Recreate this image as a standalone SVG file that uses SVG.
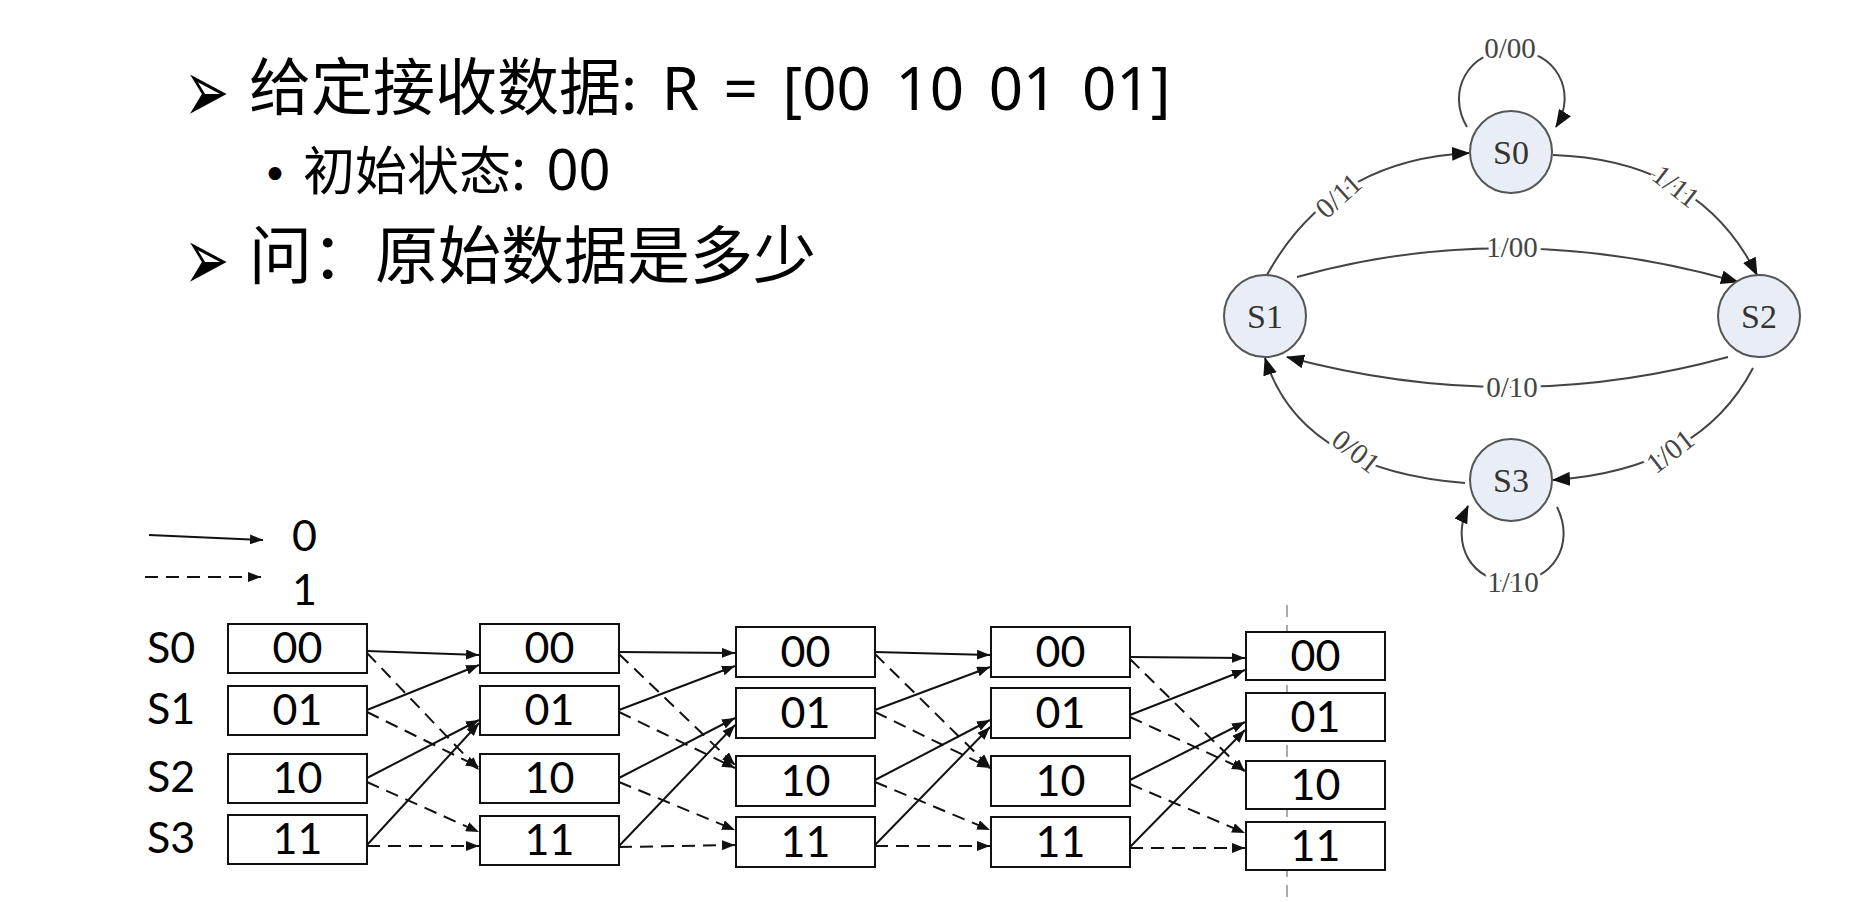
<svg xmlns="http://www.w3.org/2000/svg" width="1856" height="902" viewBox="0 0 1856 902">
<style>
.cjk{font-family:"Noto Sans CJK SC","Noto Sans",sans-serif;fill:#000}
.lat{font-family:"Noto Sans","Noto Sans CJK SC",sans-serif;fill:#000}
.bul{font-family:"DejaVu Sans",sans-serif;fill:#000}
.box{fill:#fff;stroke:#111;stroke-width:2}
.bt{font-family:Lato,"Noto Sans",sans-serif;font-size:43px;fill:#000;text-anchor:middle}
.sl{font-family:Lato,"Noto Sans",sans-serif;font-size:43px;fill:#000}
.s{fill:none;stroke:#111;stroke-width:2;marker-end:url(#ah)}
.d{fill:none;stroke:#111;stroke-width:2;stroke-dasharray:13 8;marker-end:url(#ah)}
.node{fill:#e9eef6;stroke:#555;stroke-width:2}
.nl{font-family:"Liberation Serif",serif;font-size:34px;fill:#333;text-anchor:middle}
.e{fill:none;stroke:#444;stroke-width:2;marker-end:url(#ah2)}
.el{font-family:"Liberation Serif",serif;font-size:29px;fill:#444;text-anchor:middle;stroke:#fff;stroke-width:8;paint-order:stroke}
</style>
<defs>
<marker id="ah" markerUnits="userSpaceOnUse" markerWidth="13" markerHeight="10" refX="13" refY="5" orient="auto"><path d="M0,0 L13,5 L0,10 z" fill="#111"/></marker>
<marker id="ah2" markerUnits="userSpaceOnUse" markerWidth="18" markerHeight="14" refX="17" refY="7" orient="auto"><path d="M0,0 L18,7 L0,14 z" fill="#111"/></marker>
</defs>

<g id="header">
<text class="bul" font-size="54" transform="translate(184,122) scale(1,1.65)">➢</text>
<text y="110"><tspan class="cjk" x="249" font-size="62">给定接收数据</tspan><tspan class="lat" font-size="60" word-spacing="9">: R = [00 10 01 01]</tspan></text>
<text class="bul" x="262" y="190" font-size="44">•</text>
<text y="190"><tspan class="cjk" x="303" font-size="52">初始状态</tspan><tspan class="lat" font-size="56" word-spacing="6">: 00</tspan></text>
<text class="bul" font-size="54" transform="translate(184,290) scale(1,1.65)">➢</text>
<text y="278"><tspan class="cjk" x="249" font-size="63">问：原始数据是多少</tspan></text>
</g>

<g id="state-diagram">
<g id="edges-state">
<path class="e" d="M1467,127 C1446,92 1468,50 1512,50 C1556,50 1578,92 1556,127"/>
<path class="e" d="M1267,275 Q1330,160 1469,153"/>
<path class="e" d="M1553,155 Q1700,160 1757,275"/>
<path class="e" d="M1297,277 Q1510,217 1738,282"/>
<path class="e" d="M1728,357 Q1510,417 1287,357"/>
<path class="e" d="M1753,368 Q1700,470 1553,480"/>
<path class="e" d="M1465,483 Q1300,470 1265,358"/>
<path class="e" d="M1557,507 C1576,545 1552,582 1512,582 C1472,582 1450,545 1468,506"/>
<text class="el" x="1510" y="58">0/00</text>
<text class="el" transform="translate(1345,203) rotate(-42)">0/11</text>
<text class="el" transform="translate(1670,194) rotate(38)">1/11</text>
<text class="el" x="1512" y="257">1/00</text>
<text class="el" x="1512" y="397">0/10</text>
<text class="el" transform="translate(1676,459) rotate(-38)">1/01</text>
<text class="el" transform="translate(1350,459) rotate(38)">0/01</text>
<text class="el" x="1513" y="592">1/10</text>
</g>
<g id="S0"><circle class="node" cx="1511" cy="152" r="41"/><text class="nl" x="1511" y="164">S0</text></g>
<g id="S1"><circle class="node" cx="1265" cy="316" r="41"/><text class="nl" x="1265" y="328">S1</text></g>
<g id="S2"><circle class="node" cx="1759" cy="316" r="41"/><text class="nl" x="1759" y="328">S2</text></g>
<g id="S3"><circle class="node" cx="1511" cy="480" r="41"/><text class="nl" x="1511" y="492">S3</text></g>
</g>

<g id="legend">
<line class="s" x1="149" y1="535" x2="263" y2="540"/>
<line class="d" x1="145" y1="577" x2="261" y2="577"/>
<text class="sl" x="292" y="551" font-size="40px">0</text>
<text class="sl" x="292" y="605" font-size="40px">1</text>
</g>

<line x1="1287" y1="605" x2="1287" y2="902" stroke="#aaa" stroke-width="2" stroke-dasharray="12 8"/>

<g id="row-labels">
<text class="sl" x="147" y="663">S0</text>
<text class="sl" x="147" y="724">S1</text>
<text class="sl" x="147" y="792">S2</text>
<text class="sl" x="147" y="853">S3</text>
</g>

<g id="trellis-edges">
<path class="s" d="M367,651 L479,655"/><path class="s" d="M367,710 L479,665"/><path class="s" d="M367,778 L479,720"/><path class="s" d="M367,845 L479,723"/>
<path class="d" d="M367,653 L479,770"/><path class="d" d="M367,712 L479,767"/><path class="d" d="M367,782 L479,832"/><path class="d" d="M367,846 L479,846"/>
<path class="s" d="M619,652 L735,653"/><path class="s" d="M619,710 L735,666"/><path class="s" d="M619,778 L735,718"/><path class="s" d="M619,846 L735,725"/>
<path class="d" d="M619,654 L735,765"/><path class="d" d="M619,712 L735,768"/><path class="d" d="M619,782 L735,830"/><path class="d" d="M619,847 L735,845"/>
<path class="s" d="M875,652 L990,655"/><path class="s" d="M875,710 L990,667"/><path class="s" d="M875,780 L990,720"/><path class="s" d="M875,845 L990,727"/>
<path class="d" d="M875,654 L990,767"/><path class="d" d="M875,712 L990,768"/><path class="d" d="M875,782 L990,830"/><path class="d" d="M875,846 L990,846"/>
<path class="s" d="M1130,657 L1245,658"/><path class="s" d="M1130,715 L1245,670"/><path class="s" d="M1130,780 L1245,722"/><path class="s" d="M1130,847 L1245,730"/>
<path class="d" d="M1130,659 L1245,772"/><path class="d" d="M1130,717 L1245,770"/><path class="d" d="M1130,784 L1245,833"/><path class="d" d="M1130,848 L1245,848"/>
</g>

<g id="col1">
<g id="c1-00"><rect class="box" x="228" y="624" width="139" height="49"/><text class="bt" x="297.5" y="663">00</text></g>
<g id="c1-01"><rect class="box" x="228" y="686" width="139" height="49"/><text class="bt" x="297.5" y="725">01</text></g>
<g id="c1-10"><rect class="box" x="228" y="754" width="139" height="49"/><text class="bt" x="297.5" y="793">10</text></g>
<g id="c1-11"><rect class="box" x="228" y="815" width="139" height="49"/><text class="bt" x="297.5" y="854">11</text></g>
</g>
<g id="col2">
<g id="c2-00"><rect class="box" x="480" y="624" width="139" height="49"/><text class="bt" x="549.5" y="663">00</text></g>
<g id="c2-01"><rect class="box" x="480" y="686" width="139" height="49"/><text class="bt" x="549.5" y="725">01</text></g>
<g id="c2-10"><rect class="box" x="480" y="754" width="139" height="49"/><text class="bt" x="549.5" y="793">10</text></g>
<g id="c2-11"><rect class="box" x="480" y="816" width="139" height="49"/><text class="bt" x="549.5" y="855">11</text></g>
</g>
<g id="col3">
<g id="c3-00"><rect class="box" x="736" y="627" width="139" height="50"/><text class="bt" x="805.5" y="667">00</text></g>
<g id="c3-01"><rect class="box" x="736" y="688" width="139" height="50"/><text class="bt" x="805.5" y="728">01</text></g>
<g id="c3-10"><rect class="box" x="736" y="756" width="139" height="50"/><text class="bt" x="805.5" y="796">10</text></g>
<g id="c3-11"><rect class="box" x="736" y="817" width="139" height="50"/><text class="bt" x="805.5" y="857">11</text></g>
</g>
<g id="col4">
<g id="c4-00"><rect class="box" x="991" y="627" width="139" height="50"/><text class="bt" x="1060.5" y="667">00</text></g>
<g id="c4-01"><rect class="box" x="991" y="688" width="139" height="50"/><text class="bt" x="1060.5" y="728">01</text></g>
<g id="c4-10"><rect class="box" x="991" y="756" width="139" height="50"/><text class="bt" x="1060.5" y="796">10</text></g>
<g id="c4-11"><rect class="box" x="991" y="817" width="139" height="50"/><text class="bt" x="1060.5" y="857">11</text></g>
</g>
<g id="col5">
<g id="c5-00"><rect class="box" x="1246" y="632" width="139" height="48"/><text class="bt" x="1315.5" y="671">00</text></g>
<g id="c5-01"><rect class="box" x="1246" y="693" width="139" height="48"/><text class="bt" x="1315.5" y="732">01</text></g>
<g id="c5-10"><rect class="box" x="1246" y="761" width="139" height="48"/><text class="bt" x="1315.5" y="800">10</text></g>
<g id="c5-11"><rect class="box" x="1246" y="822" width="139" height="48"/><text class="bt" x="1315.5" y="861">11</text></g>
</g>
</svg>
